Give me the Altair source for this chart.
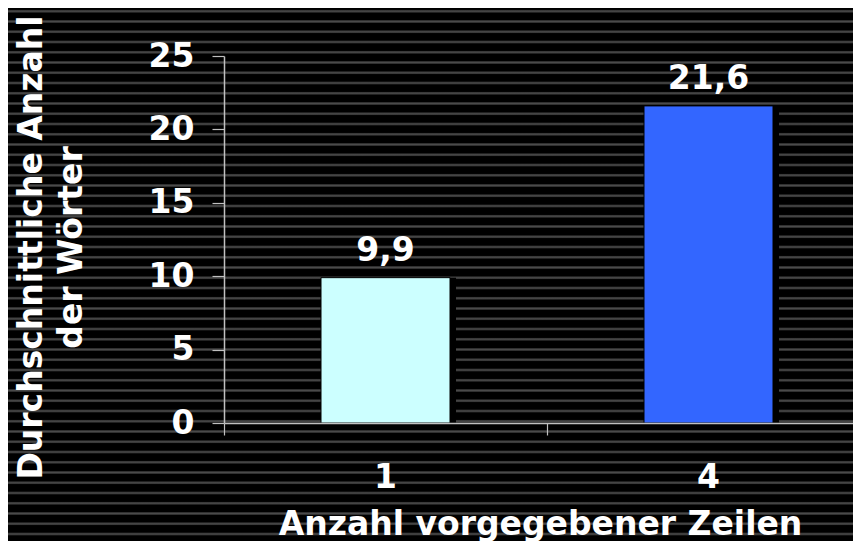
import altair as alt
import pandas as pd

# ---- data ----
categories = ["1", "4"]
values = [9.9, 21.6]
bar_colors = ["#CCFFFF", "#3366FF"]
y_ticks = [0, 5, 10, 15, 20, 25]

df = pd.DataFrame({"zeilen": categories, "woerter": values, "farbe": bar_colors})

FONT = "DejaVu Sans"
FS = 33
W, H = 629, 367           # plot area
PAD_L, PAD_T = 216, 48
TOTAL_W, TOTAL_H = 845, 533
AXIS_GRAY = "#c0c0c0"

# ---- striped background (decoration) as a linear gradient ----
spacing = 10.25
first_center = -7.0
profile = [(-1.8, "#000000"), (-0.9, "#363636"), (0.0, "#4a4a4a"),
           (0.9, "#363636"), (1.8, "#000000")]
stops = [alt.GradientStop(offset=0, color="#000000")]
n = 1
while True:
    c = first_center + spacing * n
    if c + 1.8 >= TOTAL_H:
        break
    for d, col in profile:
        stops.append(alt.GradientStop(offset=round((c + d) / TOTAL_H, 6), color=col))
    n += 1
stops.append(alt.GradientStop(offset=1, color="#000000"))
stripes = alt.LinearGradient(gradient="linear", stops=stops, x1=0, x2=0, y1=0, y2=1)

bg = alt.Chart(alt.Data(values=[{}])).mark_rect(fill=stripes, stroke=None).encode(
    x=alt.value(-PAD_L), x2=alt.value(W),
    y=alt.value(-PAD_T), y2=alt.value(TOTAL_H - PAD_T),
)

x_axis = alt.Axis(
    title="Anzahl vorgegebener Zeilen",
    titleFont=FONT, titleFontSize=FS, titleFontWeight="bold", titleColor="white",
    titleX=316, titleY=111, titleAlign="center", titleBaseline="alphabetic",
    labelFont=FONT, labelFontSize=FS, labelFontWeight="bold", labelColor="white",
    labelAngle=0, labelPadding=26, bandPosition=0,
    tickSize=12, tickColor=AXIS_GRAY, tickWidth=1.2,
    domainColor=AXIS_GRAY, domainWidth=1.5, grid=False, zindex=1,
)
y_axis = alt.Axis(
    title=["Durchschnittliche Anzahl", "der Wörter"],
    titleFont=FONT, titleFontSize=FS, titleFontWeight="bold", titleColor="white",
    titleX=-193, titleY=191, titleAngle=270, titleAlign="center",
    titleBaseline="middle", titleLineHeight=40,
    values=y_ticks, format="d",
    labelFont=FONT, labelFontSize=FS, labelFontWeight="bold", labelColor="white",
    labelPadding=18,
    tickSize=12, tickColor=AXIS_GRAY, tickWidth=1.2,
    domainColor=AXIS_GRAY, domainWidth=1.5, grid=False, zindex=1,
)

base = alt.Chart(df).encode(
    x=alt.X("zeilen:N",
            scale=alt.Scale(domain=categories, range=[0, 646], paddingInner=0, paddingOuter=0),
            axis=x_axis, sort=categories),
    y=alt.Y("woerter:Q", scale=alt.Scale(domain=[0, 25], nice=False), axis=y_axis),
)

shadow = base.mark_bar(size=129, color="#000000", xOffset=6)
bars = base.mark_bar(size=129, stroke="#000000", strokeWidth=1).encode(
    color=alt.Color("farbe:N", scale=None)
)
labels = base.transform_calculate(
    label="replace(format(datum.woerter, '.1f'), '.', ',')"
).mark_text(
    dy=-17, baseline="alphabetic", font=FONT, fontSize=FS, fontWeight="bold", color="white"
).encode(text="label:N")

chart = alt.layer(bg, shadow, bars, labels).properties(
    width=W, height=H,
    padding={"left": PAD_L, "top": PAD_T, "right": TOTAL_W - PAD_L - W,
             "bottom": TOTAL_H - PAD_T - H},
    autosize=alt.AutoSizeParams(type="none"),
    background="#000000",
).configure_view(stroke=None)

chart.save("out.html", embed_options={"renderer": "svg", "actions": False})
